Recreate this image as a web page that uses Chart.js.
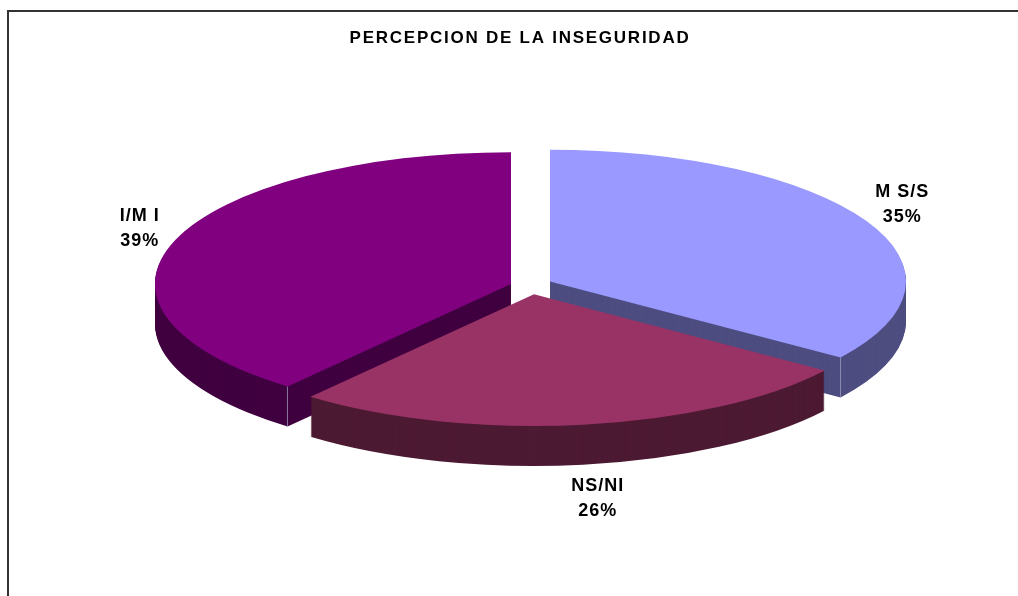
<!DOCTYPE html>
<html>
<head>
<meta charset="utf-8">
<title>Percepcion de la inseguridad</title>
<script src="https://cdn.jsdelivr.net/npm/chart.js@4"></script>
<style>
    html, body { margin: 0; padding: 0; background: #fff; overflow: hidden; }
    #wrap { position: relative; width: 1018px; height: 596px; }
    #frame { position: absolute; left: 7px; top: 10px; width: 1011px; height: 586px;
             box-sizing: border-box; border-left: 2px solid #333; border-top: 2px solid #333; }
    canvas { position: absolute; left: 0; top: 0; }
</style>
</head>
<body>
<div id="wrap">
    <div id="frame"></div>
    <canvas id="chart1" width="1018" height="596"></canvas>
</div>
<script>
/* data */
const categories = ['M S/S', 'NS/NI', 'I/M I'];
const percents = [34.8, 26, 39.2];
const sliceColors = ['#9999FF', '#993366', '#800080'];
const sideColors = ['#4D4D80', '#4D1A33', '#400040'];
const chartTitle = 'PERCEPCION DE LA INSEGURIDAD';

/* look of the 3d pie */
const explode = 21.3;
const tilt = 0.37;
const depth = 40;
const pieX = 531;
const pieY = 286.5;
const drawOrder = [0, 2, 1];
const sliceLift = [-1.5, 0, 0];
const labelReach = [418, 484, 415];
const labelShift = [-10.5, 34.5, -6.5];
const seamColor = '#A9A9C9';

function midAngle(arc) {
    return (arc.startAngle + arc.endAngle) / 2;
}

function drawSlice(ctx, arc, i, color, drop) {
    const opts = arc.options;
    const mid = midAngle(arc);
    arc.options = Object.assign({}, opts, { backgroundColor: color, borderWidth: 0 });
    ctx.save();
    // whole pixels in x so the straight edge at the apex stays clean
    ctx.translate(Math.round(pieX - arc.x + Math.cos(mid) * explode),
        pieY + sliceLift[i] + drop + Math.sin(mid) * explode * tilt);
    ctx.scale(1, tilt);
    ctx.translate(0, -arc.y);
    arc.draw(ctx);
    ctx.restore();
    arc.options = opts;
}

// thin light line down the wall corner, like the excel 3d pie has
function drawSeam(ctx, arc, i, angle) {
    const mid = midAngle(arc);
    const x = pieX + Math.cos(mid) * explode + Math.cos(angle) * arc.outerRadius;
    const y = pieY + sliceLift[i] + (Math.sin(mid) * explode + Math.sin(angle) * arc.outerRadius) * tilt;
    ctx.save();
    ctx.strokeStyle = seamColor;
    ctx.lineWidth = 0.7;
    ctx.beginPath();
    ctx.moveTo(x, y);
    ctx.lineTo(x, y + depth);
    ctx.stroke();
    ctx.restore();
}

const pie3d = {
    id: 'pie3d',
    beforeDraw(chart) {
        chart.ctx.letterSpacing = '1.75px';
    },
    beforeDatasetsDraw(chart) {
        const ctx = chart.ctx;
        const arcs = chart.getDatasetMeta(0).data;
        drawOrder.forEach(i => {
            for (let d = depth; d > 0; d--) {
                drawSlice(ctx, arcs[i], i, sideColors[i], d);
            }
            if (i === 0) drawSeam(ctx, arcs[i], i, arcs[i].endAngle);
            if (i === 2) drawSeam(ctx, arcs[i], i, arcs[i].startAngle);
            drawSlice(ctx, arcs[i], i, sliceColors[i], 0);
        });
        return false;
    },
    afterDraw(chart) {
        const ctx = chart.ctx;
        const arcs = chart.getDatasetMeta(0).data;
        ctx.save();
        ctx.fillStyle = '#000';
        ctx.font = 'bold 18px "Liberation Sans"';
        ctx.letterSpacing = '1px';
        ctx.textAlign = 'center';
        ctx.textBaseline = 'middle';
        arcs.forEach((arc, i) => {
            const mid = midAngle(arc);
            const x = pieX + Math.cos(mid) * labelReach[i];
            const y = pieY + Math.sin(mid) * labelReach[i] * tilt + labelShift[i];
            ctx.fillText(categories[i], x, y - 12.5);
            ctx.fillText(Math.round(percents[i]) + '%', x, y + 12.5);
        });
        ctx.restore();
    }
};

new Chart(document.getElementById('chart1'), {
    type: 'pie',
    data: {
        labels: categories,
        datasets: [{
            data: percents,
            backgroundColor: sliceColors,
            borderWidth: 0,
            clip: false
        }]
    },
    options: {
        responsive: false,
        animation: false,
        radius: 356,
        layout: { padding: { left: 22, top: 0 } },
        plugins: {
            legend: { display: false },
            tooltip: { enabled: false },
            title: {
                display: true,
                text: chartTitle,
                color: '#000',
                font: { family: '"Liberation Sans"', size: 17, weight: 'bold' },
                padding: { top: 28, bottom: 10 }
            }
        }
    },
    plugins: [pie3d]
});
</script>
</body>
</html>
